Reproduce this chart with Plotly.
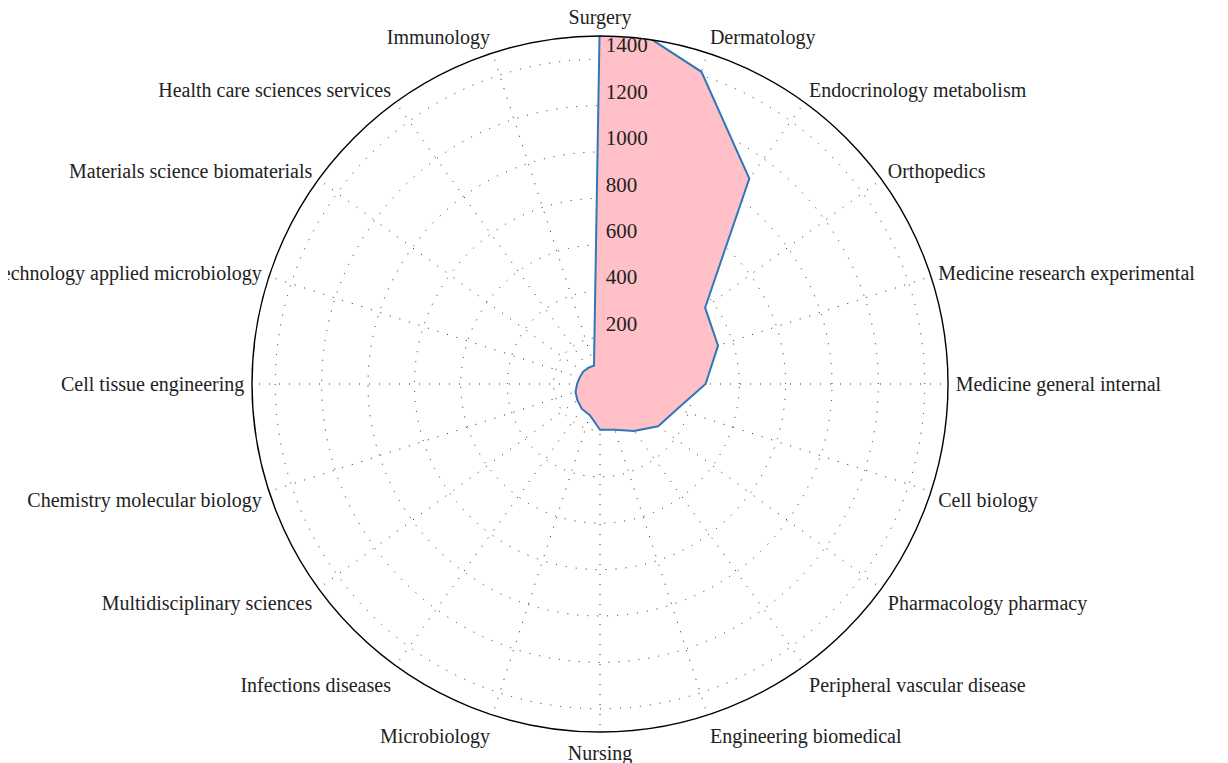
import plotly.graph_objects as go

categories = [
    "Surgery", "Dermatology", "Endocrinology metabolism", "Orthopedics",
    "Medicine research experimental", "Medicine general internal", "Cell biology",
    "Pharmacology pharmacy", "Peripheral vascular disease", "Engineering biomedical",
    "Nursing", "Microbiology", "Infections diseases", "Multidisciplinary sciences",
    "Chemistry molecular biology", "Cell tissue engineering",
    "Biotechnology applied microbiology", "Materials science biomaterials",
    "Health care sciences services", "Immunology",
]
counts = [1630, 1415, 1095, 560, 535, 455, 350, 310, 250, 207,
          197, 141, 133, 120, 111, 99, 92, 90, 86, 84]

radial_ticks = [200, 400, 600, 800, 1000, 1200, 1400]

font_family = "Liberation Serif"
W, H = 1228, 763

fig = go.Figure()
fig.add_trace(go.Scatterpolar(
    r=counts + counts[:1],
    theta=categories + categories[:1],
    mode="lines",
    fill="toself",
    fillcolor="#ffc0c7",
    line=dict(color="#2f78b8", width=2),
    hoverinfo="r+theta",
))

# page body has an 8px margin, so the circle is placed 8px up/left
fig.update_layout(
    width=W, height=H,
    margin=dict(l=0, r=0, t=0, b=0),
    paper_bgcolor="white",
    showlegend=False,
    font=dict(family=font_family, size=20, color="#222"),
    polar=dict(
        domain=dict(x=[244 / W, 940 / W], y=[39 / H, 735 / H]),
        bgcolor="white",
        radialaxis=dict(
            range=[0, 1500],
            tickvals=radial_ticks,
            # blank second line lifts each label above its ring, as in the source
            ticktext=[f" {v}<br> " for v in radial_ticks],
            angle=90,
            tickangle=90,
            showline=False,
            ticks="",
            gridcolor="#222",
            griddash="1px,9px",
            gridwidth=1.3,
            tickfont=dict(family=font_family, size=21, color="#222"),
        ),
        angularaxis=dict(
            type="category",
            categoryarray=categories,
            rotation=90,
            direction="clockwise",
            showline=True,
            linecolor="black",
            linewidth=1.4,
            ticks="outside",
            ticklen=3,
            tickcolor="rgba(0,0,0,0)",
            gridcolor="#222",
            griddash="1px,9px",
            gridwidth=1.3,
            tickfont=dict(family=font_family, size=20, color="#222"),
        ),
    ),
)

fig.write_html("out.html")
